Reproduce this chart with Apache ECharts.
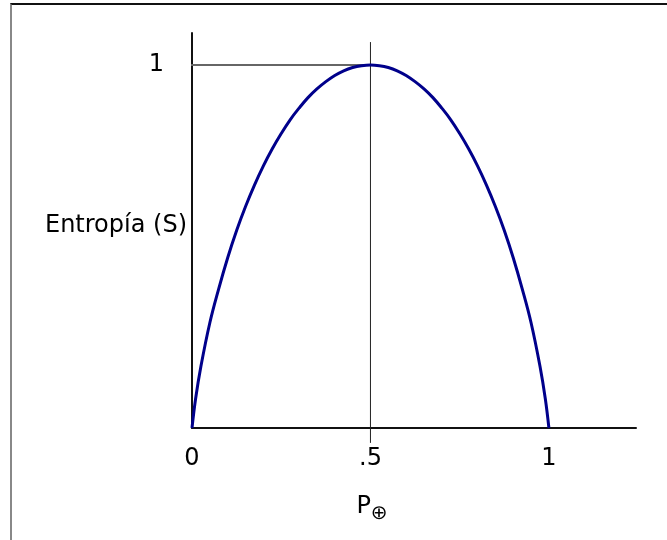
<!DOCTYPE html>
<html>
<head>
<meta charset="utf-8">
<title>Entropía</title>
<script src="https://cdn.jsdelivr.net/npm/echarts@6/dist/echarts.min.js"></script>
<style>
  html, body { margin: 0; padding: 0; background: #fff; }
  #chart { width: 667px; height: 540px; }
  #frame {
    position: absolute; left: 10px; top: 3px; right: 0; bottom: 0;
    border-top: 2px solid #111; border-left: 2px solid #888;
    pointer-events: none;
  }
</style>
</head>
<body>
<div id="chart"></div>
<div id="frame"></div>
<script>
// probabilidad P y entropía S
const pValues = [0, 0.01, 0.025, 0.05, 0.075, 0.1, 0.125, 0.15, 0.175, 0.2, 0.225, 0.25,
                 0.275, 0.3, 0.325, 0.35, 0.375, 0.4, 0.425, 0.45, 0.475, 0.5,
                 0.525, 0.55, 0.575, 0.6, 0.625, 0.65, 0.675, 0.7, 0.725, 0.75,
                 0.775, 0.8, 0.825, 0.85, 0.875, 0.9, 0.925, 0.95, 0.975, 0.99, 1];
const sValues = [0, 0.08, 0.17, 0.29, 0.384, 0.469, 0.544, 0.61, 0.669, 0.722, 0.769, 0.811,
                 0.849, 0.881, 0.91, 0.934, 0.954, 0.971, 0.984, 0.993, 0.998, 1.0,
                 0.998, 0.993, 0.984, 0.971, 0.954, 0.934, 0.91, 0.881, 0.849, 0.811,
                 0.769, 0.722, 0.669, 0.61, 0.544, 0.469, 0.384, 0.29, 0.17, 0.08, 0];

// etiquetas de los ejes
const xTickValues = [0, 0.5, 1];
const xTickLabels = ['0', '.5', '1'];
const yTickValues = [1];
const yTickLabels = ['1'];
const yAxisName = 'Entropía (S)';

// líneas guía (máximo en P = .5)
const guideV = [[0.5, -0.041], [0.5, 1.063]];
const guideH = [[-0.045, 1], [0.5, 1]];

const font = 'DejaVu Sans';

function pickLabel(values, labels) {
    return (v) => {
        const i = values.findIndex(t => Math.abs(t - v) < 1e-6);
        return i < 0 ? '' : labels[i];
    };
}

const chart = echarts.init(document.getElementById('chart'));
chart.setOption({
    animation: false,
    // nombre del eje Y, a la izquierda del eje
    title: {
        text: yAxisName,
        right: 480, top: 212, padding: 0,
        textStyle: { color: '#000', fontFamily: font, fontSize: 24, fontWeight: 'normal', lineHeight: 28 }
    },
    grid: { left: 192, top: 33, right: 31, bottom: 112 },
    xAxis: {
        type: 'value', min: 0, max: 1.244, interval: 0.5,
        axisLine: { lineStyle: { color: '#111', width: 2 } },
        axisTick: { show: false },
        splitLine: { show: false },
        axisLabel: {
            formatter: pickLabel(xTickValues, xTickLabels),
            color: '#000', fontFamily: font, fontSize: 24, margin: 19
        },
        name: '{p|P}{s|⊕}',
        nameLocation: 'middle',
        nameGap: 62,
        nameMoveOverlap: false,
        nameTextStyle: {
            padding: [0, 84, 0, 0],
            rich: {
                p: { fontFamily: font, fontSize: 24, color: '#000' },
                s: { fontFamily: font, fontSize: 20, color: '#000', padding: [14, 0, 0, 0] }
            }
        }
    },
    yAxis: {
        type: 'value', min: 0, max: 1.088, interval: 1,
        axisLine: { lineStyle: { color: '#111', width: 2 } },
        axisTick: { show: false },
        splitLine: { show: false },
        axisLabel: {
            formatter: pickLabel(yTickValues, yTickLabels),
            color: '#000', fontFamily: font, fontSize: 24, margin: 28
        }
    },
    series: [
        {
            type: 'line', data: guideH, symbol: 'none', silent: true, clip: false,
            lineStyle: { color: '#666', width: 2 }
        },
        {
            type: 'line', data: guideV, symbol: 'none', silent: true, clip: false,
            lineStyle: { color: '#222', width: 1 }
        },
        {
            type: 'line',
            data: pValues.map((p, i) => [p, sValues[i]]),
            smooth: 0.4, symbol: 'none', silent: true,
            lineStyle: { color: '#00008b', width: 3 }
        }
    ]
});
</script>
</body>
</html>
